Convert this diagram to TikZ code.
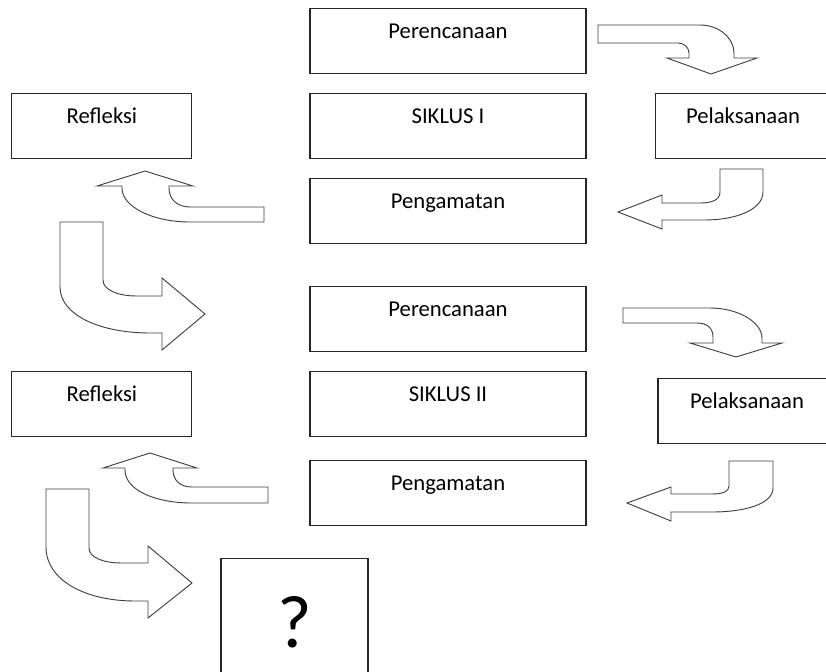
\documentclass[tikz,border=0pt]{standalone}
\usepackage{fontspec}
\setmainfont{Carlito}
\usepackage{tikz}
\usetikzlibrary{positioning}

\begin{document}
\begin{tikzpicture}[x=0.75pt,y=-0.75pt,node distance=15pt,font=\fontsize{17pt}{20pt}\selectfont]
    \tikzset{box/.style={draw=black!85,line width=0.8pt,rectangle,anchor=north,inner sep=0pt,minimum width=207pt,text height=22.5pt,text depth=26.25pt}}
    \tikzset{sidebox/.style={box,minimum width=135pt}}
    \tikzset{blockarrow/.style={draw=black!75,fill=white,line width=0.7pt,line join=miter}}
    \useasboundingbox (0,0) rectangle (826,672);
    \clip (0,0) rectangle (826,672);

    \node[box] (plan1) at (448,8) {Perencanaan};
    \node[box] (siklus1) [below = 14.25pt of plan1] {SIKLUS I};
    \node[box] (obs1) [below = 14.25pt of siklus1] {Pengamatan};
    \node[sidebox] (refl1) [left = 87.75pt of siklus1] {Refleksi};
    \node[sidebox,minimum width=132pt] (act1) [right = 51pt of siklus1] {Pelaksanaan};

    \node[box] (plan2) [below = 31.5pt of obs1] {Perencanaan};
    \node[box] (siklus2) [below = 14.25pt of plan2] {SIKLUS II};
    \node[box] (obs2) [below = 17.25pt of siklus2] {Pengamatan};
    \node[sidebox] (refl2) [left = 87.75pt of siklus2] {Refleksi};
    \node[sidebox,minimum width=133.5pt] (act2) at (747,378) {Pelaksanaan};

    \node[box,minimum width=110.25pt,text height=66.75pt,text depth=30.75pt,font=\fontsize{56pt}{60pt}\selectfont] (next) at (294.5,558) {?};

    \draw[blockarrow] (598,25) -- (700,25) .. controls (719,25) and (734,38) .. (734,53) -- (734,58) -- (757,58) -- (711,74) -- (667,58) -- (689,58) -- (689,53) .. controls (689,47.5) and (684,43) .. (678,43) -- (598,43) -- cycle;
    \draw[blockarrow] (720,169) -- (763,169) -- (763,192) .. controls (763,210) and (735,220) .. (705,220) -- (662,220) -- (662,229) -- (618,212) -- (662,195) -- (662,203) -- (700,203) .. controls (712,203) and (720,200) .. (720,192) -- cycle;
    \draw[blockarrow] (264,207) -- (264,222) -- (190,222) .. controls (153,222) and (122,207) .. (122,188) -- (122,186) -- (97,186) -- (145,171) -- (193,186) -- (169,186) -- (169,188) .. controls (169,200) and (178,207) .. (190,207) -- cycle;
    \draw[blockarrow] (60,222) -- (103,222) -- (103,280) .. controls (103,290) and (118,296) .. (137,296) -- (162,296) -- (162,278) -- (205,314) -- (162,350) -- (162,333) -- (150,333) .. controls (100,333) and (60,315) .. (60,287) -- cycle;

    \draw[blockarrow] (623,308) -- (710,308) .. controls (738,308) and (762,322) .. (762,338) -- (762,343) -- (782,343) -- (736,357) -- (690,343) -- (713,343) -- (713,337) .. controls (713,328) and (707,323) .. (697,323) -- (623,323) -- cycle;
    \draw[blockarrow] (729,461) -- (773,461) -- (773,488) .. controls (773,504) and (745,512) .. (712,512) -- (671,512) -- (671,521) -- (627,503) -- (671,487) -- (671,494) -- (712,494) .. controls (722,494) and (729,492) .. (729,486) -- cycle;
    \draw[blockarrow] (268,487) -- (268,503) -- (192,503) .. controls (155,503) and (125,490) .. (125,470) -- (125,468) -- (103,468) -- (150,453) -- (197,468) -- (173,468) -- (173,470) .. controls (173,480) and (180,487) .. (192,487) -- cycle;
    \draw[blockarrow] (46,489) -- (89,489) -- (89,548) .. controls (89,557) and (102,563) .. (122,563) -- (148,563) -- (148,546) -- (192,583) -- (148,618) -- (148,601) -- (135,601) .. controls (85,601) and (46,580) .. (46,547) -- cycle;
\end{tikzpicture}
\end{document}
